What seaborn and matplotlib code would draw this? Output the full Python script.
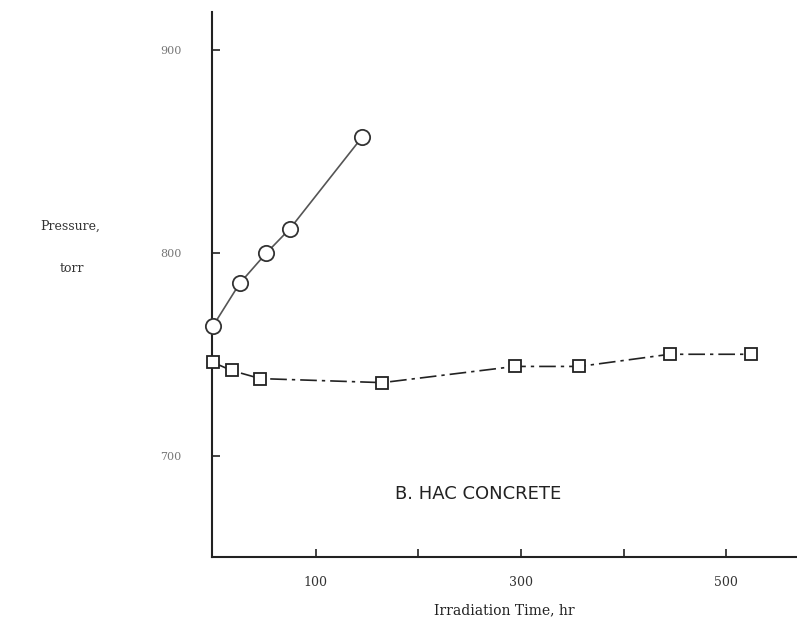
import matplotlib
matplotlib.use("Agg")
import matplotlib.pyplot as plt
import seaborn as sns
import pandas as pd

# Data
circle_time = [0, 26, 52, 75, 145]
circle_pressure = [764, 785, 800, 812, 857]
square_time = [0, 18, 46, 165, 294, 357, 445, 524]
square_pressure = [746, 742, 738, 736, 744, 744, 750, 750]

x_ticks = [100, 200, 300, 400, 500]
x_tick_labels = ["100", "", "300", "", "500"]
y_ticks = [700, 800, 900]
y_tick_labels = ["700", "800", "900"]

sns.set_theme(style="white")
plt.rcParams["font.family"] = ["DejaVu Serif", "DejaVu Sans"]

fig = plt.figure(figsize=(7.97, 6.25), dpi=100)
ax = fig.add_axes([0.266, 0.109, 0.734, 0.872])

circ = pd.DataFrame({"t": circle_time, "p": circle_pressure})
sq = pd.DataFrame({"t": square_time, "p": square_pressure})

sns.lineplot(data=circ, x="t", y="p", ax=ax, color="#555555", linewidth=1.2,
             marker="o", markersize=11, markerfacecolor="white",
             markeredgecolor="#333333", markeredgewidth=1.3, sort=False,
             clip_on=False, zorder=3)
sns.lineplot(data=sq, x="t", y="p", ax=ax, color="#222222", linewidth=1.2,
             linestyle=(0, (10, 3, 2, 3)),
             marker="s", markersize=9, markerfacecolor="white",
             markeredgecolor="#222222", markeredgewidth=1.3, sort=False,
             clip_on=False, zorder=3)

ax.set_xlim(-1, 569)
ax.set_ylim(650, 919)
ax.set_xticks(x_ticks)
ax.set_xticklabels(x_tick_labels, fontsize=9, color="#333333")
ax.set_yticks(y_ticks)
ax.set_yticklabels(y_tick_labels, fontsize=8, color="#777777")
ax.tick_params(axis="both", direction="in", length=6, width=1.2, color="#222222",
               bottom=True, left=True)
ax.tick_params(axis="x", pad=14)
ax.tick_params(axis="y", pad=22)

for s in ["top", "right"]:
    ax.spines[s].set_visible(False)
for s in ["left", "bottom"]:
    ax.spines[s].set_color("#222222")
    ax.spines[s].set_linewidth(1.5)

ax.set_xlabel("Irradiation Time, hr", fontsize=10, color="#222222", labelpad=10)
ax.set_ylabel("")

fig.text(0.088, 0.638, "Pressure,", fontsize=9, color="#333333", ha="center", va="center")
fig.text(0.090, 0.571, "torr", fontsize=9, color="#333333", ha="center", va="center")

ax.text(0.455, 0.116, "B. HAC CONCRETE", transform=ax.transAxes, fontsize=13,
        color="#222222", ha="center", va="center", family="DejaVu Sans")

fig.savefig("out.png", dpi=100)
